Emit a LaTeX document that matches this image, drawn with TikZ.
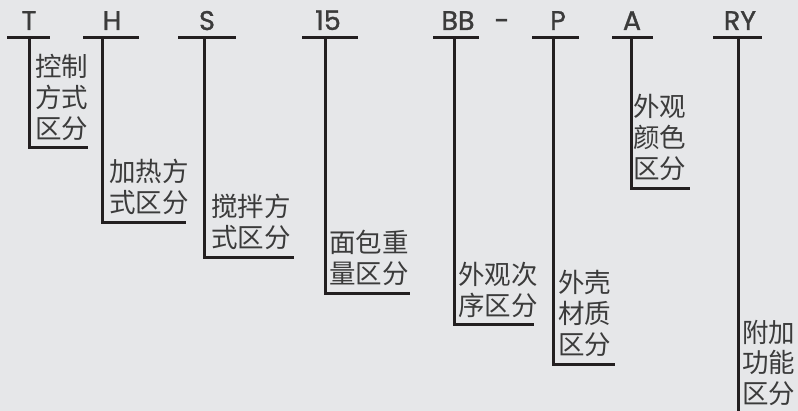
\documentclass[tikz,border=0pt]{standalone}
\usepackage{fontspec}
\newfontfamily\cjk{Noto Sans CJK SC}
\newfontfamily\lat[FakeBold=1.2]{Poppins}
\definecolor{bgc}{HTML}{E6E7E9}
\definecolor{linec}{HTML}{231F20}
\definecolor{textc}{HTML}{3B3B3B}
\tikzset{
  codeline/.style={line width=3pt, draw=linec},
  codetext/.style={font=\lat\fontsize{27}{29}\selectfont, text=textc, inner sep=0pt, anchor=base},
  desctext/.style={font=\cjk\fontsize{26.5}{31}\selectfont, text=textc, inner sep=0pt, anchor=base west, align=left}
}
\begin{document}
\begin{tikzpicture}[x=1pt,y=-1pt]
\fill[bgc] (0,0) rectangle (798,411);
\useasboundingbox (0,0) rectangle (798,411);
% T
\node[codetext] (cT) at (29,30) {T};
\coordinate (tL) at (7,38); \coordinate (tR) at (50,38);
\coordinate (tA) at (29,38); \coordinate (tB) at (29,148); \coordinate (tC) at (88,148);
\draw[codeline] (tL) -- (tR);
\draw[codeline, line join=miter] (tA) -- (tB) -- (tC);
\node[desctext] (dT) at (35,139) {控制\\方式\\区分};
% H
\node[codetext] (cH) at (112,30) {H};
\coordinate (hL) at (83,38); \coordinate (hR) at (139,38);
\coordinate (hA) at (102,38); \coordinate (hB) at (102,223); \coordinate (hC) at (186,223);
\draw[codeline] (hL) -- (hR);
\draw[codeline, line join=miter] (hA) -- (hB) -- (hC);
\node[desctext] (dH) at (109,213) {加热方\\式区分};
% S
\node[codetext] (cS) at (207,30) {S};
\coordinate (sL) at (178,38); \coordinate (sR) at (236,38);
\coordinate (sA) at (204,38); \coordinate (sB) at (204,258); \coordinate (sC) at (294,258);
\draw[codeline] (sL) -- (sR);
\draw[codeline, line join=miter] (sA) -- (sB) -- (sC);
\node[desctext] (dS) at (211,248) {搅拌方\\式区分};
% 15
\node[codetext] (c15) at (328,30) {15};
\coordinate (fL) at (302,38); \coordinate (fR) at (358,38);
\coordinate (fA) at (325,38); \coordinate (fB) at (325,294); \coordinate (fC) at (410,294);
\draw[codeline] (fL) -- (fR);
\draw[codeline, line join=miter] (fA) -- (fB) -- (fC);
\node[desctext] (d15) at (329,284) {面包重\\量区分};
% BB
\node[codetext] (cBB) at (458,30) {BB};
\node[codetext] (cdash) at (502,30) {-};
\coordinate (bL) at (433,38); \coordinate (bR) at (479,38);
\coordinate (bA) at (454,38); \coordinate (bB) at (454,325); \coordinate (bC) at (534,325);
\draw[codeline] (bL) -- (bR);
\draw[codeline, line join=miter] (bA) -- (bB) -- (bC);
\node[desctext] (dBB) at (458,316) {外观次\\序区分};
% P
\node[codetext] (cP) at (558,30) {P};
\coordinate (pL) at (532,38); \coordinate (pR) at (579,38);
\coordinate (pA) at (553,38); \coordinate (pB) at (553,365); \coordinate (pC) at (615,365);
\draw[codeline] (pL) -- (pR);
\draw[codeline, line join=miter] (pA) -- (pB) -- (pC);
\node[desctext] (dP) at (558,355) {外壳\\材质\\区分};
% A
\node[codetext] (cA) at (632,30) {A};
\coordinate (aL) at (612,38); \coordinate (aR) at (653,38);
\coordinate (aA) at (631,38); \coordinate (aB) at (631,189); \coordinate (aC) at (690,189);
\draw[codeline] (aL) -- (aR);
\draw[codeline, line join=miter] (aA) -- (aB) -- (aC);
\node[desctext] (dA) at (633,179) {外观\\颜色\\区分};
% RY
\node[codetext] (cRY) at (740,30) {RY};
\coordinate (rL) at (713,38); \coordinate (rR) at (762,38);
\coordinate (rA) at (738,38); \coordinate (rB) at (738,413);
\draw[codeline] (rL) -- (rR);
\draw[codeline] (rA) -- (rB);
\node[desctext] (dRY) at (742,404) {附加\\功能\\区分};
\end{tikzpicture}
\end{document}
